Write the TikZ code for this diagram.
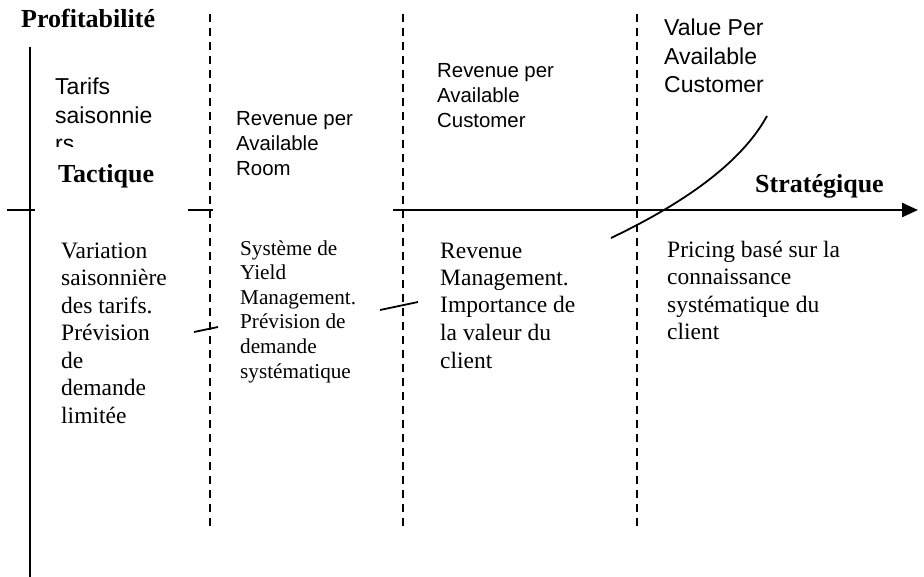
\documentclass[tikz,border=0pt]{standalone}
\usepackage{fontspec}
\setmainfont{Liberation Serif}
\newfontfamily\sansfont{Liberation Sans}
\usetikzlibrary{arrows.meta}

\begin{document}
\begin{tikzpicture}[x=1pt,y=-1pt,
		etiq/.style={anchor=base west,inner sep=0pt,align=left,font=\sansfont\fontsize{20.4}{25}\selectfont},
		grand/.style={font=\sansfont\fontsize{23}{28.5}\selectfont},
		desc/.style={anchor=base west,inner sep=0pt,align=left,font=\fontsize{23.5}{27.5}\selectfont},
		titre/.style={anchor=base west,inner sep=0pt,font=\bfseries\fontsize{26}{30}\selectfont},
		sep/.style={dash pattern=on 8pt off 6pt,line width=1.6pt},
		courbe/.style={line width=1.8pt}]
			\useasboundingbox (0,0) rectangle (924,577);
			%Axes
			\draw[line width=2.4pt] (30,47) -- (30,577);
			\draw[line width=2.4pt,-{Triangle[length=16pt,width=14pt]}] (393,210) -- (918,210);
			\draw[line width=2pt] (7,210) -- (35,210);
			\draw[line width=2pt] (188,210) -- (213,210);
			\node[titre] (profit) at (21,28) {Profitabilité};
			
			%Separations
			\draw[sep] (210,14) -- (210,526);
			\draw[sep] (403,14) -- (403,526);
			\draw[sep] (637,14) -- (637,526);
			
			%Courbe
			\draw[courbe] (194,332) -- (218,327);
			\draw[courbe] (380,310) -- (418,302);
			\draw[courbe] (611,238) .. controls (680,205) and (740,165) .. (767,116);
			
			%Etiquettes du haut (ancre = derniere ligne)
			\begin{scope}
				\clip (40,60) rectangle (200,147);
				\node[etiq,grand] (tarifs) at (55,152) {Tarifs\\saisonnie\\rs};
			\end{scope}
			\node[etiq] (revpar) at (236,176) {Revenue per\\Available\\Room};
			\node[etiq] (revpac) at (437,128) {Revenue per\\Available\\Customer};
			\node[etiq,grand] (valpac) at (664,93) {Value Per\\Available\\Customer};
			\node[titre] (tactique) at (58,183) {Tactique};
			\node[titre] (strat) at (755,193) {Stratégique};
			
			%Descriptions
			\node[desc] (d1) at (61,423) {Variation\\saisonnière\\des tarifs.\\Prévision\\de\\demande\\limitée};
			\node[desc,font=\fontsize{21.2}{24.6}\selectfont] (d2) at (240,378) {Système de\\Yield\\Management.\\Prévision de\\demande\\systématique};
			\node[desc] (d3) at (440,368) {Revenue\\Management.\\Importance de\\la valeur du\\client};
			\node[desc] (d4) at (667,340) {Pricing basé sur la\\connaissance\\systématique du\\client};
		\end{tikzpicture}
\end{document}
